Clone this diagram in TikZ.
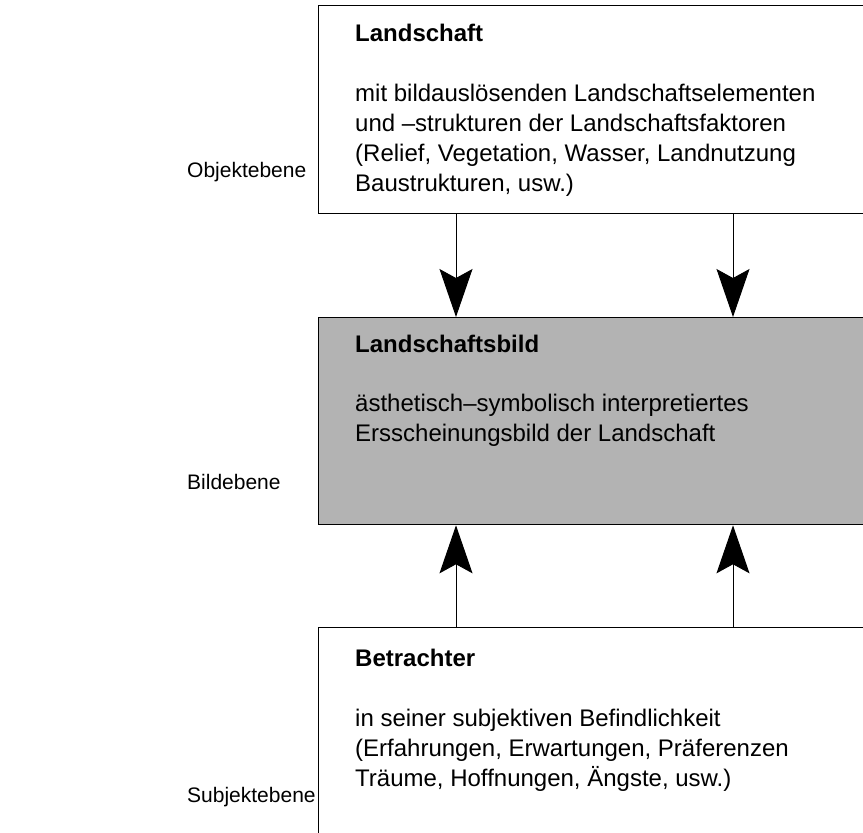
\documentclass[tikz,border=0pt]{standalone}
\usepackage{fontspec}
\setmainfont{Liberation Sans}
\usetikzlibrary{arrows.meta}
\definecolor{boxgray}{RGB}{179,179,179}
\tikzset{
  panel/.style={draw=black, line width=1.3pt, rectangle, anchor=north west,
    minimum width=620pt, inner sep=0pt},
  txt/.style={anchor=base west, inner sep=0pt, font=\fontsize{24}{30}\selectfont},
  ttl/.style={anchor=base west, inner sep=0pt, font=\fontsize{24}{30}\selectfont\bfseries},
  lvl/.style={anchor=base west, inner sep=0pt, font=\fontsize{21}{25}\selectfont},
  arr/.style={line width=1pt, -{Stealth[length=48pt, width=33pt, inset=9pt]}}
}
\begin{document}
\begin{tikzpicture}[x=1pt,y=1pt]
\useasboundingbox (0,0) rectangle (863,-833);
\clip (0,0) rectangle (863,-833);
% boxes
\node[panel, minimum height=208pt] (top) at (318,-5) {};
\node[panel, fill=boxgray, minimum height=207pt] (mid) at (318,-317) {};
\node[panel, minimum height=300pt] (bot) at (318,-627) {};
% texts, top box
\node[ttl] (t1) at (355,-41) {Landschaft};
\node[txt] (b11) at (355,-101) {mit bildauslösenden Landschaftselementen};
\node[txt] (b12) at (355,-131) {und \textendash strukturen der Landschaftsfaktoren};
\node[txt] (b13) at (355,-161) {(Relief, Vegetation, Wasser, Landnutzung};
\node[txt] (b14) at (355,-191) {Baustrukturen, usw.)};
% middle box
\node[ttl] (t2) at (355,-352) {Landschaftsbild};
\node[txt] (b21) at (355,-411) {ästhetisch\textendash symbolisch interpretiertes};
\node[txt] (b22) at (355,-441) {Ersscheinungsbild der Landschaft};
% bottom box
\node[ttl] (t3) at (355,-666) {Betrachter};
\node[txt] (b31) at (355,-726) {in seiner subjektiven Befindlichkeit};
\node[txt] (b32) at (355,-756) {(Erfahrungen, Erwartungen, Präferenzen};
\node[txt] (b33) at (355,-786) {Träume, Hoffnungen, Ängste, usw.)};
% level labels
\node[lvl] (l1) at (187,-177.5) {Objektebene};
\node[lvl] (l2) at (187,-489.5) {Bildebene};
\node[lvl] (l3) at (187,-802.5) {Subjektebene};
% arrow columns
\coordinate (c1) at (456,0);
\coordinate (c2) at (733,0);
\draw[arr] (top.south -| c1) -- (mid.north -| c1);
\draw[arr] (top.south -| c2) -- (mid.north -| c2);
\draw[arr] (bot.north -| c1) -- (mid.south -| c1);
\draw[arr] (bot.north -| c2) -- (mid.south -| c2);
\end{tikzpicture}
\end{document}
